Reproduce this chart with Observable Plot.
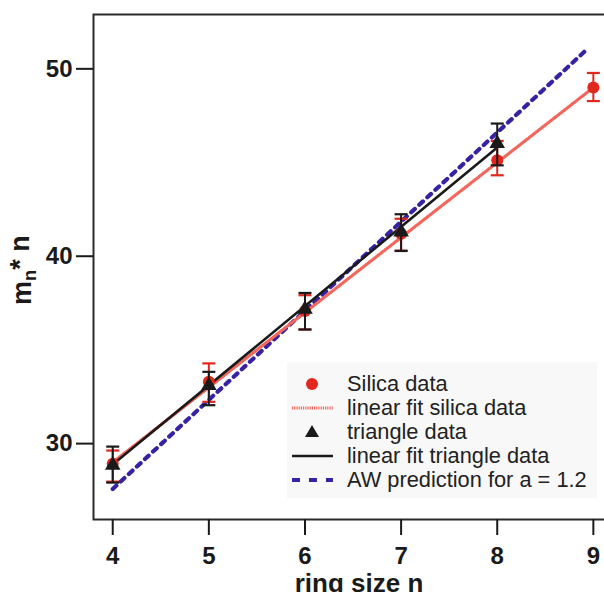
<!DOCTYPE html>
<html><head><meta charset="utf-8">
<script src="https://cdn.jsdelivr.net/npm/d3@7"></script>
<script src="https://cdn.jsdelivr.net/npm/@observablehq/plot@0.6"></script>
<style>
body{margin:0;background:#fff;}
#wrap{position:relative;width:604px;height:592px;overflow:hidden;font-family:"Liberation Sans",Arial,sans-serif;}
#legend{position:absolute;left:287px;top:362px;width:310px;height:136px;background:#f8f8f8;}
.row{position:absolute;left:0;height:24px;width:310px;font-size:21.8px;color:#222;}
.row svg{position:absolute;left:0;top:0;}
.row span{position:absolute;left:60px;top:0;line-height:24px;white-space:nowrap;}
</style></head>
<body><div id="wrap"></div>
<script>
// ---- data ----
const ringSize   = [4, 5, 6, 7, 8, 9];
const silica     = [28.93, 33.30, 37.08, 41.20, 45.12, 49.00];
const silicaLo   = [27.97, 32.23, 36.09, 40.30, 44.32, 48.28];
const silicaHi   = [29.63, 34.28, 37.92, 42.00, 46.15, 49.78];
const triSize    = [4, 5, 6, 7, 8];
const triangle   = [28.85, 33.10, 37.17, 41.30, 46.01];
const triangleLo = [27.92, 32.05, 36.09, 40.28, 44.85];
const triangleHi = [29.84, 33.83, 38.04, 42.24, 47.08];
const silicaFitX = [4, 9];
const silicaFitY = [29.0, 49.0];
const triFitX    = [4, 8];
const triFitY    = [28.88, 45.8];
const awX        = [4, 8.95];
const awY        = [27.58, 51.12];
const xTicks     = [4, 5, 6, 7, 8, 9];
const yTicks     = [30, 40, 50];
const legendLabels = ["Silica data", "linear fit silica data", "triangle data", "linear fit triangle data", "AW prediction for a = 1.2"];

const RED = "#e2271d", RED_LINE = "#f3665b", BLUE = "#3622a2", INK = "#1a1a1a";

const silicaRows = ringSize.map((n, i) => ({n, m: silica[i], lo: silicaLo[i], hi: silicaHi[i]}));
const triRows = triSize.map((n, i) => ({n, m: triangle[i], lo: triangleLo[i], hi: triangleHi[i]}));
const silicaFit = silicaFitX.map((n, i) => ({n, m: silicaFitY[i]}));
const triFit = triFitX.map((n, i) => ({n, m: triFitY[i]}));
const aw = awX.map((n, i) => ({n, m: awY[i]}));

const cap = {draw(ctx) { ctx.moveTo(-6.5, 0); ctx.lineTo(6.5, 0); }};

const chart = Plot.plot({
  width: 604, height: 592,
  marginLeft: 93, marginRight: -10, marginTop: 14, marginBottom: 73,
  style: {fontFamily: '"Liberation Sans", Arial, sans-serif', color: INK, background: "transparent"},
  x: {domain: [3.8, 9.22]},
  y: {domain: [25.95, 52.9]},
  marks: [
    Plot.line(aw, {x: "n", y: "m", stroke: BLUE, strokeWidth: 4.2, strokeDasharray: "5,6"}),
    Plot.line(silicaFit, {x: "n", y: "m", stroke: RED_LINE, strokeWidth: 3.2, strokeDasharray: "1,1.2"}),
    Plot.line(triFit, {x: "n", y: "m", stroke: INK, strokeWidth: 2.6}),
    Plot.ruleX(silicaRows, {x: "n", y1: "lo", y2: "hi", stroke: RED, strokeWidth: 2}),
    Plot.dot(silicaRows, {x: "n", y: "lo", symbol: cap, stroke: RED, strokeWidth: 2.2}),
    Plot.dot(silicaRows, {x: "n", y: "hi", symbol: cap, stroke: RED, strokeWidth: 2.2}),
    Plot.dot(silicaRows, {x: "n", y: "m", r: 6, fill: RED}),
    Plot.ruleX(triRows, {x: "n", y1: "lo", y2: "hi", stroke: INK, strokeWidth: 2}),
    Plot.dot(triRows, {x: "n", y: "lo", symbol: cap, stroke: INK, strokeWidth: 2.2}),
    Plot.dot(triRows, {x: "n", y: "hi", symbol: cap, stroke: INK, strokeWidth: 2.2}),
    Plot.dot(triRows, {x: "n", y: "m", r: 5.8, symbol: "triangle", fill: INK}),
    Plot.frame({stroke: "#2a2a2a", strokeWidth: 2}),
    Plot.axisX({ticks: xTicks, tickSize: 16, tickPadding: 11, tickFormat: d => String(d), fontSize: 24, fontWeight: "bold", strokeWidth: 2, label: null}),
    Plot.axisY({ticks: yTicks, tickSize: 17, tickPadding: 4, tickFormat: d => String(d), fontSize: 24, fontWeight: "bold", strokeWidth: 2, label: null}),
    Plot.text(["ring size n"], {frameAnchor: "bottom", dy: 64, dx: 5, lineAnchor: "middle", fontSize: 26, fontWeight: "bold", fill: INK}),
    Plot.text(["m_n* n"], {frameAnchor: "left", dx: -71, dy: 38, rotate: -90, lineAnchor: "middle", fontSize: 27, fontWeight: "bold", fill: INK})
  ]
});

// subscript for the y label
chart.querySelectorAll("text").forEach(t => {
  if (t.textContent === "m_n* n") {
    const ns = "http://www.w3.org/2000/svg";
    t.textContent = "";
    const parts = [["m", null, null], ["n", "0.28em", "68%"], ["*", "-0.28em", null], [" n", null, null]];
    for (const [s, dy, fs] of parts) {
      const sp = document.createElementNS(ns, "tspan");
      sp.textContent = s;
      if (dy) sp.setAttribute("dy", dy);
      if (fs) sp.setAttribute("font-size", fs);
      t.appendChild(sp);
    }
  }
});

const wrap = document.getElementById("wrap");
wrap.appendChild(chart);

// legend
const legend = document.createElement("div");
legend.id = "legend";
const symbols = [
  '<circle cx="25" cy="12" r="6" fill="' + RED + '"/>',
  '<line x1="5" x2="46" y1="12" y2="12" stroke="' + RED_LINE + '" stroke-width="3" stroke-dasharray="1.2,1"/>',
  '<path d="M25,5 L32,17 L18,17 Z" fill="' + INK + '"/>',
  '<line x1="5" x2="46" y1="12" y2="12" stroke="' + INK + '" stroke-width="2.6"/>',
  '<line x1="5" x2="46" y1="12" y2="12" stroke="' + BLUE + '" stroke-width="4" stroke-dasharray="8,9"/>'
];
legendLabels.forEach((lab, i) => {
  const row = document.createElement("div");
  row.className = "row";
  row.style.top = (10 + i * 24) + "px";
  row.innerHTML = '<svg width="56" height="24">' + symbols[i] + '</svg><span></span>';
  row.querySelector("span").textContent = lab;
  legend.appendChild(row);
});
wrap.appendChild(legend);
</script>
</body></html>
